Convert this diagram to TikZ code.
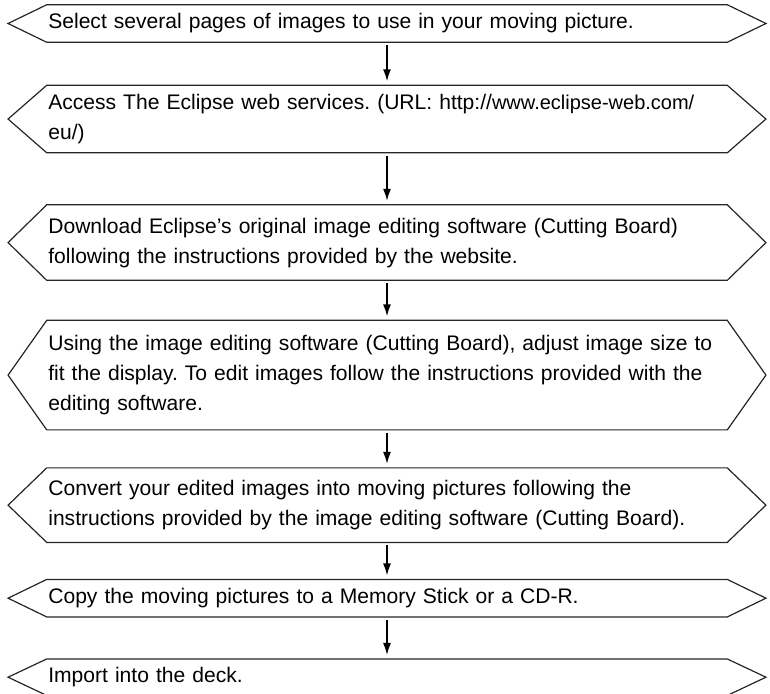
\documentclass[tikz,border=0pt]{standalone}
\usepackage{fontspec}
\setmainfont{Liberation Sans}
\usetikzlibrary{positioning,arrows.meta}

\begin{document}
\frenchspacing
\begin{tikzpicture}[
  x=0.75pt, y=-0.75pt,
  every node/.style={font=\fontsize{15.8pt}{22.5pt}\selectfont},
  stepbox/.style={rectangle, align=left, text width=508pt,
                  inner xsep=1pt, inner ysep=0pt, minimum width=510pt},
  outline/.style={line width=0.9pt, draw=black!85},
  arrow/.style={-{Latex[length=9pt,width=6pt]}, line width=1.1pt,
                shorten <=2.25pt, shorten >=3pt}
]
\useasboundingbox (0,0) rectangle (770,693);

\node[stepbox, minimum height=27.75pt] (select) at (387,23.5)
      {Select several pages of images to use in your moving picture.};
\node[stepbox, minimum height=50.25pt, below=32.25pt of select] (access)
      {Access The Eclipse web services. (URL: http://{\fontsize{15pt}{22.5pt}\selectfont www.eclipse-web.com/}\\eu/)};
\node[stepbox, minimum height=56.25pt, below=39pt of access] (download)
      {Download Eclipse's original image editing software (Cutting Board)\\following the instructions provided by the website.};
\node[stepbox, minimum height=81.75pt, below=30pt of download] (resize)
      {Using the image editing software (Cutting Board), adjust image size to\\fit the display. To edit images follow the instructions provided with the\\editing software.};
\node[stepbox, minimum height=55.5pt, below=28.5pt of resize] (convert)
      {Convert your edited images into moving pictures following the\\instructions provided by the image editing software (Cutting Board).};
\node[stepbox, minimum height=27.75pt, below=27.75pt of convert] (copy)
      {Copy the moving pictures to a Memory Stick or a CD-R.};
\node[stepbox, minimum height=27pt, below=31.5pt of copy] (import)
      {Import into the deck.};

% pointed outlines round every step
\foreach \n in {select,access,download,resize,convert,copy,import}
  \draw[outline] (\n.north west) -- (\n.north east) -- ([xshift=29pt]\n.east)
    -- (\n.south east) -- (\n.south west) -- ([xshift=-29pt]\n.west) -- cycle;

\draw[arrow] (select) -- (access);
\draw[arrow] (access) -- (download);
\draw[arrow] (download) -- (resize);
\draw[arrow] (resize) -- (convert);
\draw[arrow] (convert) -- (copy);
\draw[arrow] (copy) -- (import);

\end{tikzpicture}
\end{document}
